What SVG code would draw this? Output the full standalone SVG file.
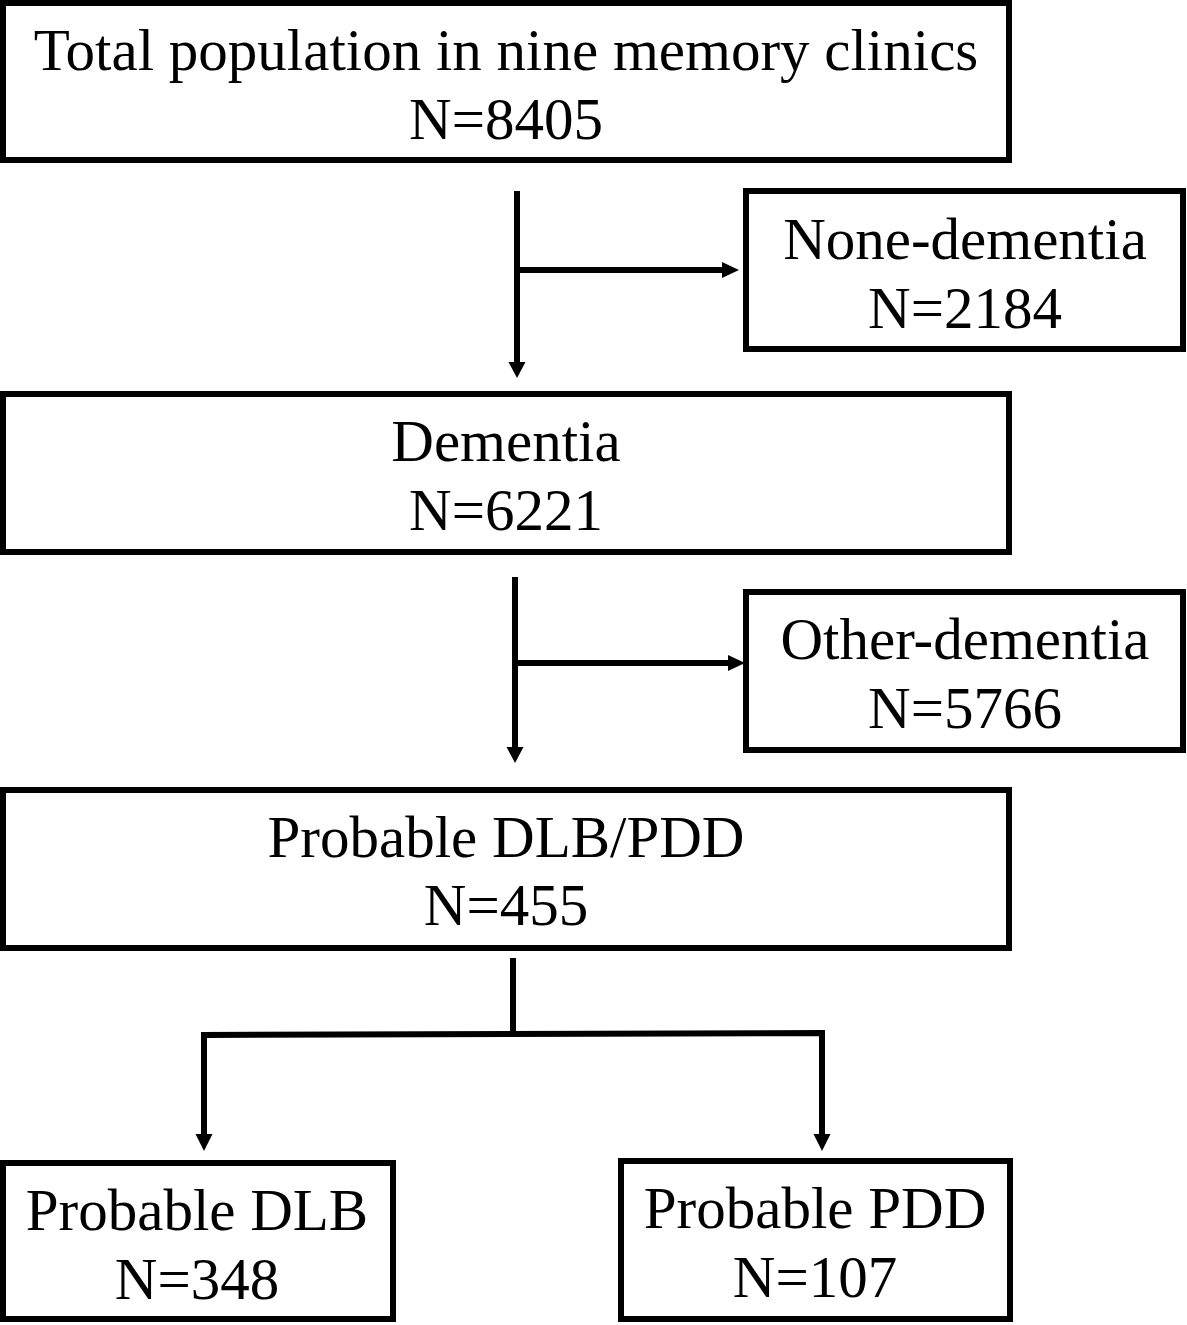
<svg xmlns="http://www.w3.org/2000/svg" width="1187" height="1325" viewBox="0 0 1187 1325">
<defs>
<style>
.box{fill:#fff;stroke:#000;stroke-width:6}
.t{font-family:"Liberation Serif","Times New Roman",serif;font-size:59px;text-anchor:middle;fill:#000}
.c{fill:none;stroke:#000;stroke-width:6}
.h{fill:#000;stroke:none}
</style>
</defs>
<rect width="1187" height="1325" fill="#fff"/>
<g id="connectors">
<line class="c" x1="517" y1="191" x2="517" y2="364"/>
<polygon class="h" points="508.5,362 525.5,362 517,378"/>
<line class="c" x1="520" y1="270" x2="724" y2="270"/>
<polygon class="h" points="722,262 722,278 739,270"/>
<line class="c" x1="515" y1="577" x2="515" y2="749"/>
<polygon class="h" points="506.5,747 523.5,747 515,763"/>
<line class="c" x1="518" y1="663" x2="730" y2="663"/>
<polygon class="h" points="728,655 728,671 745,663"/>
<line class="c" x1="513" y1="958" x2="513" y2="1034"/>
<polyline class="c" points="204,1136 204,1035 822,1033 822,1136"/>
<polygon class="h" points="195.5,1134 212.5,1134 204,1151"/>
<polygon class="h" points="813.5,1134 830.5,1134 822,1151"/>
</g>
<g id="n1">
<rect class="box" x="3" y="3" width="1006" height="157"/>
<text class="t" x="506" y="70">Total population in nine memory clinics</text>
<text class="t" x="506" y="139">N=8405</text>
</g>
<g id="n2">
<rect class="box" x="746" y="191" width="437" height="158"/>
<text class="t" x="965" y="259">None-dementia</text>
<text class="t" x="965" y="328">N=2184</text>
</g>
<g id="n3">
<rect class="box" x="3" y="394" width="1006" height="158"/>
<text class="t" x="506" y="461">Dementia</text>
<text class="t" x="506" y="530">N=6221</text>
</g>
<g id="n4">
<rect class="box" x="746" y="592" width="437" height="158"/>
<text class="t" x="965" y="659">Other-dementia</text>
<text class="t" x="965" y="728">N=5766</text>
</g>
<g id="n5">
<rect class="box" x="3" y="790" width="1006" height="158"/>
<text class="t" x="506" y="857">Probable DLB/PDD</text>
<text class="t" x="506" y="925">N=455</text>
</g>
<g id="n6">
<rect class="box" x="3" y="1163" width="390" height="156"/>
<text class="t" x="197" y="1230">Probable DLB</text>
<text class="t" x="197" y="1299">N=348</text>
</g>
<g id="n7">
<rect class="box" x="621" y="1161" width="389" height="158"/>
<text class="t" x="815" y="1228">Probable PDD</text>
<text class="t" x="815" y="1297">N=107</text>
</g>
</svg>
